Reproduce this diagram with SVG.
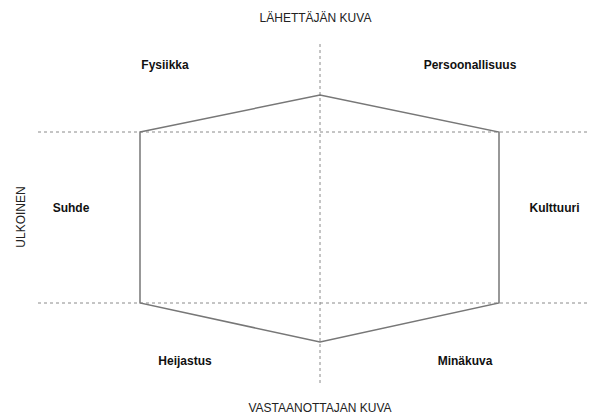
<svg xmlns="http://www.w3.org/2000/svg" width="592" height="414" viewBox="0 0 592 414">
<style>
.guide{stroke:#8a8a8a;stroke-width:1;stroke-dasharray:3 3;fill:none}
.hex{stroke:#777;stroke-width:1.5;fill:none;stroke-linejoin:miter}
.axis{font-family:"Liberation Sans",Arial,sans-serif;font-size:12px;fill:#222;text-anchor:middle}
.lbl{font-family:"Liberation Sans",Arial,sans-serif;font-size:12px;font-weight:bold;fill:#111;text-anchor:middle}
</style>
<rect width="592" height="414" fill="#fff"/>
<g id="connectors">
<line class="guide" x1="320" y1="44" x2="320" y2="383"/>
<line class="guide" x1="38" y1="132" x2="590" y2="132"/>
<line class="guide" x1="38" y1="303" x2="590" y2="303"/>
<polygon class="hex" points="140,132 320,95 499,132 499,303 320,342 140,303"/>
</g>
<g id="axis-top"><text class="axis" x="315.5" y="22">LÄHETTÄJÄN KUVA</text></g>
<g id="axis-bottom"><text class="axis" x="320" y="412">VASTAANOTTAJAN KUVA</text></g>
<g id="axis-left"><text class="axis" transform="translate(24.5,217) rotate(-90)">ULKOINEN</text></g>
<g id="fysiikka"><text class="lbl" x="165" y="69">Fysiikka</text></g>
<g id="persoonallisuus"><text class="lbl" x="470" y="69">Persoonallisuus</text></g>
<g id="suhde"><text class="lbl" x="71" y="212">Suhde</text></g>
<g id="kulttuuri"><text class="lbl" x="554.5" y="212">Kulttuuri</text></g>
<g id="heijastus"><text class="lbl" x="185" y="365">Heijastus</text></g>
<g id="minakuva"><text class="lbl" x="465" y="365">Minäkuva</text></g>
</svg>
